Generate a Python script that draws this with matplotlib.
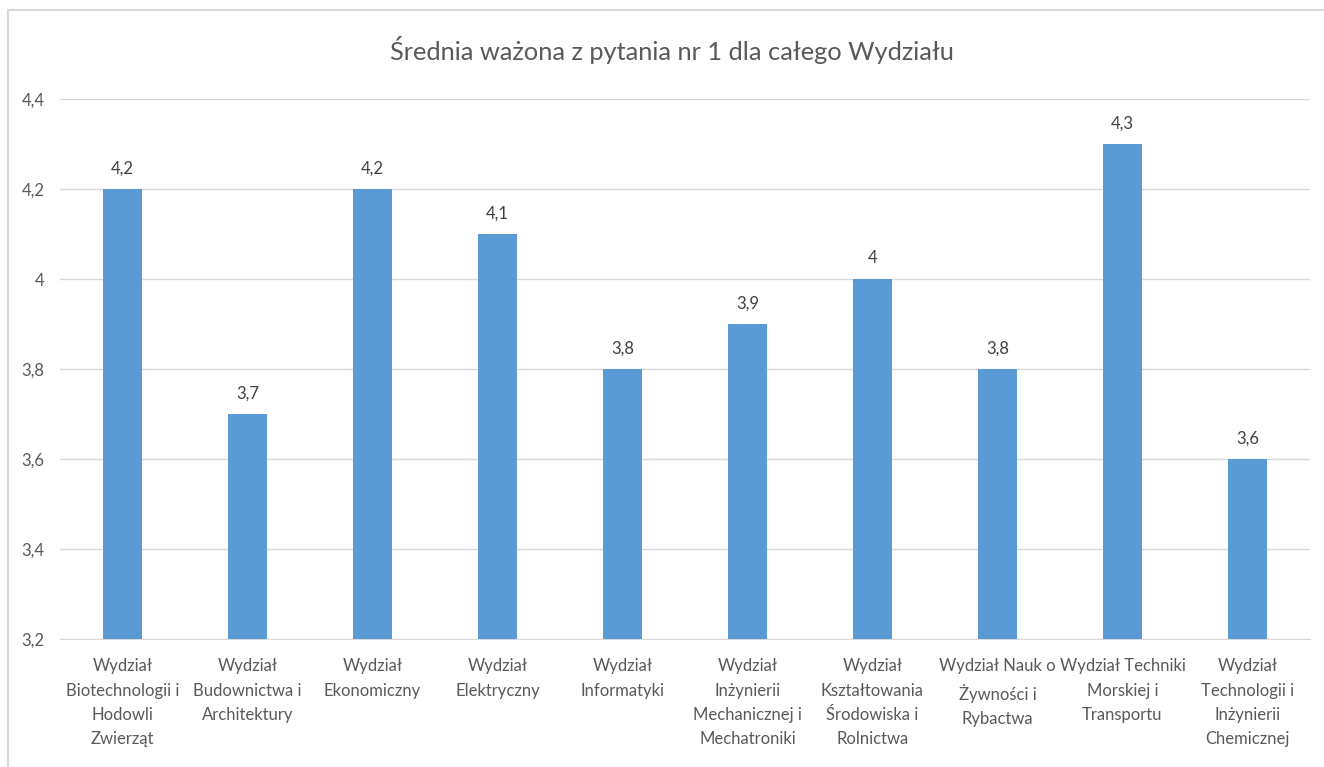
import matplotlib.pyplot as plt
from matplotlib.patches import Rectangle

plt.rcParams['font.family'] = ['Lato', 'DejaVu Sans']

# faculty names, wrapped the same way as in the original chart
faculties = [
    "Wydział\nBiotechnologii i\nHodowli\nZwierząt",
    "Wydział\nBudownictwa i\nArchitektury",
    "Wydział\nEkonomiczny",
    "Wydział\nElektryczny",
    "Wydział\nInformatyki",
    "Wydział\nInżynierii\nMechanicznej i\nMechatroniki",
    "Wydział\nKształtowania\nŚrodowiska i\nRolnictwa",
    "Wydział Nauk o\nŻywności i\nRybactwa",
    "Wydział Techniki\nMorskiej i\nTransportu",
    "Wydział\nTechnologii i\nInżynierii\nChemicznej",
]
scores = [4.2, 3.7, 4.2, 4.1, 3.8, 3.9, 4.0, 3.8, 4.3, 3.6]
y_ticks = [3.2, 3.4, 3.6, 3.8, 4.0, 4.2, 4.4]

BAR = "#5B9BD5"
GRID = "#D9D9D9"
TXT = "#595959"

fig = plt.figure(figsize=(13.24, 7.67), dpi=100)
ax = fig.add_axes([60/1324, 1-639/767, 1250/1324, 540/767])

x = range(len(faculties))
ax.bar(x, scores, width=0.31, color=BAR, zorder=3)

for xi, v in zip(x, scores):
    lab = ("%g" % v).replace(".", ",")
    ax.text(xi, v + 0.028, lab, ha="center", va="bottom", fontsize=12, color="#404040")

ax.set_xlim(-0.5, len(faculties) - 0.5)
ax.set_ylim(3.2, 4.4)
ax.set_yticks(y_ticks)
ax.set_yticklabels([("%g" % t).replace(".", ",") for t in y_ticks], fontsize=12, color=TXT)
ax.set_xticks(list(x))
ax.set_xticklabels(faculties, fontsize=12, color=TXT, linespacing=1.62, va="top")
ax.tick_params(axis="both", length=0)
ax.tick_params(axis="x", pad=14)
ax.tick_params(axis="y", pad=11)
ax.grid(axis="y", color=GRID, linewidth=1, zorder=0)
for s in ["top", "right", "left"]:
    ax.spines[s].set_visible(False)
ax.spines["bottom"].set_color(GRID)

fig.text(672/1324, 1-50/767, "Średnia ważona z pytania nr 1 dla całego Wydziału",
         ha="center", va="center", fontsize=18.3, color=TXT)

# chart area frame
fig.patches.append(Rectangle((8/1324, -0.05), 1.1, 1-10/767+0.05, transform=fig.transFigure,
                             fill=False, edgecolor="#D9D9D9", linewidth=1.5))

fig.savefig("out.png", dpi=100)
